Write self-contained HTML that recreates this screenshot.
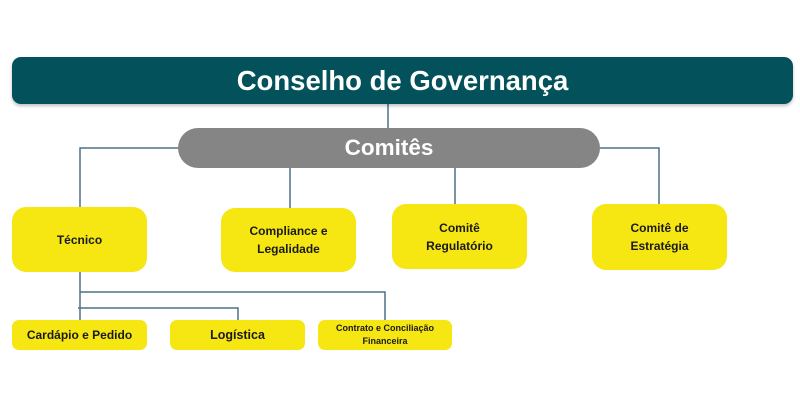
<!DOCTYPE html>
<html><head><meta charset="utf-8"><style>
body{margin:0;width:800px;height:400px;background:#fff;position:relative;overflow:hidden;font-family:"Liberation Sans",sans-serif;font-weight:bold}
.a{position:absolute;display:flex;align-items:center;justify-content:center;text-align:center;box-sizing:border-box}
.y{background:#f6e612;color:#1a1a1a;border-radius:14px;font-size:12px;line-height:18px}
.s{background:#f6e612;color:#1a1a1a;border-radius:7px}
</style></head><body>
<svg width="800" height="400" style="position:absolute;left:0;top:0" fill="none" stroke="#4d7186" stroke-width="1.5">
<path d="M388 104V128M178 148H80V207M600 148H659V204M290 167V208M455 167V204M80 272V320M80 292H385V320M78 308H238V320"/>
</svg>
<div class="a" style="left:12px;top:57px;width:781px;height:47px;background:#03515a;border-radius:9px;color:#fff;font-size:27.5px;box-shadow:0 2px 3px rgba(0,0,0,.25)">Conselho de Governança</div>
<div class="a" style="left:178px;top:128px;width:422px;height:40px;background:#858585;border-radius:20px;color:#fff;font-size:22.5px">Comitês</div>
<div class="a y" style="left:12px;top:207px;width:135px;height:65px">Técnico</div>
<div class="a y" style="left:221px;top:208px;width:135px;height:64px">Compliance e<br>Legalidade</div>
<div class="a y" style="left:392px;top:204px;width:135px;height:65px">Comitê<br>Regulatório</div>
<div class="a y" style="left:592px;top:204px;width:135px;height:66px">Comitê de<br>Estratégia</div>
<div class="a s" style="left:12px;top:320px;width:135px;height:30px;font-size:12px">Cardápio e Pedido</div>
<div class="a s" style="left:170px;top:320px;width:135px;height:30px;font-size:12.5px">Logística</div>
<div class="a s" style="left:318px;top:320px;width:134px;height:30px;font-size:9px;line-height:13px">Contrato e Conciliação<br>Financeira</div>
</body></html>
